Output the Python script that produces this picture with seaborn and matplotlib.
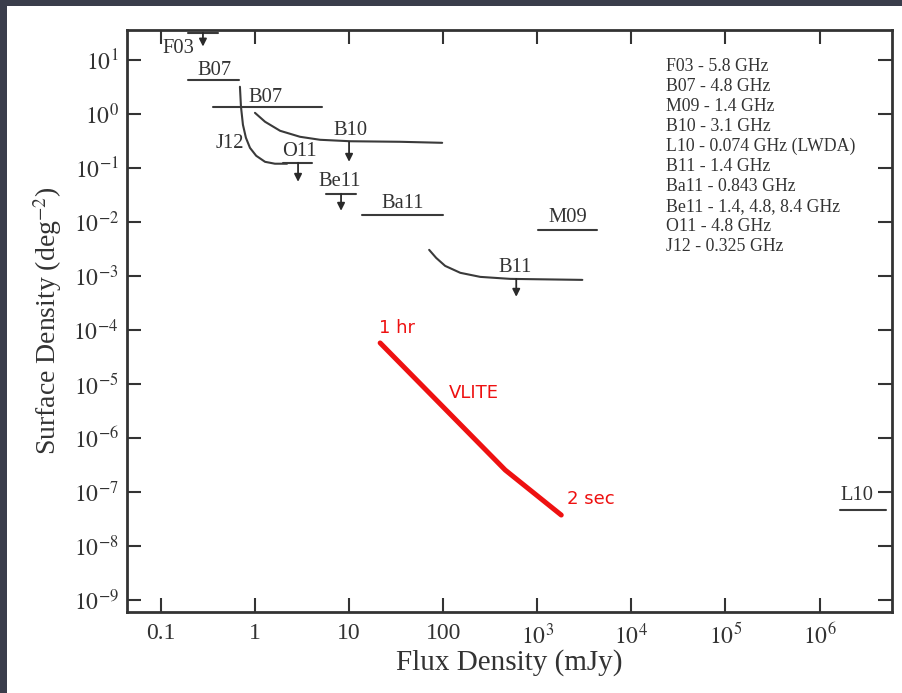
import numpy as np
import pandas as pd
import matplotlib
matplotlib.use("Agg")
import matplotlib.pyplot as plt
from matplotlib.patches import Rectangle
from matplotlib.ticker import FixedLocator, FixedFormatter, NullLocator
import seaborn as sns

# ---------------- data (flux density mJy, surface density deg^-2) ----------------
f03_x = [0.194, 0.404];            f03_y = [31.6, 31.6]
b07a_x = [0.194, 0.676];           b07a_y = [4.27, 4.27]
b07b_x = [0.357, 5.16];            b07b_y = [1.35, 1.35]
j12_x = [0.692, 0.710, 0.745, 0.801, 0.885, 1.03, 1.28, 1.63, 2.19]
j12_y = [3.16, 1.35, 0.625, 0.36, 0.234, 0.167, 0.129, 0.119, 0.119]
o11_x = [1.99, 4.04];              o11_y = [0.124, 0.124]
b10_x = [1.0, 1.28, 1.85, 3.01, 4.91, 10.3, 34.9, 97.6]
b10_y = [1.04, 0.711, 0.484, 0.375, 0.330, 0.310, 0.303, 0.290]
be11_x = [5.69, 11.9];             be11_y = [0.033, 0.033]
ba11_x = [13.7, 100.0];            ba11_y = [0.0135, 0.0135]
b11_x = [71.0, 84.3, 105.0, 152.0, 248.0, 516.0, 3013.0]
b11_y = [0.00303, 0.00215, 0.00153, 0.00114, 0.000958, 0.00088, 0.000843]
m09_x = [1026.0, 4350.0];          m09_y = [0.0071, 0.0071]
l10_x = [1.63e6, 5.04e6];          l10_y = [4.64e-8, 4.64e-8]
vlite_x = [21.4, 457.0, 1799.0]
vlite_y = [5.74e-5, 2.55e-7, 3.75e-8]

# upper-limit arrows: x, y_from, y_to
arrow_x = [0.28, 2.87, 10.0, 8.22, 598.0]
arrow_y0 = [31.6, 0.124, 0.30, 0.033, 0.00088]
arrow_y1 = [17.5, 0.055, 0.129, 0.016, 0.00041]

survey_names = ["F03", "B07", "B07", "J12", "O11", "B10", "Be11", "Ba11", "B11", "M09", "L10"]
survey_lx = [0.155, 0.375, 1.31, 0.542, 2.94, 10.3, 8.0, 37.5, 583.0, 2138.0, 2.48e6]
survey_ly = [16.0, 6.25, 1.98, 0.278, 0.198, 0.484, 0.055, 0.0216, 0.00141, 0.0119, 8.8e-8]

vlite_labels = ["1 hr", "VLITE", "2 sec"]
vlite_lx = [32.4, 214.0, 3664.0]
vlite_ly = [1.09e-4, 6.8e-6, 7.4e-8]

legend_lines = ["F03 - 5.8 GHz", "B07 - 4.8 GHz", "M09 - 1.4 GHz", "B10 - 3.1 GHz",
                "L10 - 0.074 GHz (LWDA)", "B11 - 1.4 GHz", "Ba11 - 0.843 GHz",
                "Be11 - 1.4, 4.8, 8.4 GHz", "O11 - 4.8 GHz", "J12 - 0.325 GHz"]

xticks = [0.1, 1, 10, 100, 1e3, 1e4, 1e5, 1e6]
xticklabels = ["0.1", "1", "10", "100", "$10^3$", "$10^4$", "$10^5$", "$10^6$"]
yticks = [10.0 ** e for e in range(1, -10, -1)]
yticklabels = ["$10^{%d}$" % e for e in range(1, -10, -1)]

# ---------------- build long table ----------------
segments = [("F03", f03_x, f03_y), ("B07a", b07a_x, b07a_y), ("B07b", b07b_x, b07b_y),
            ("J12", j12_x, j12_y), ("O11", o11_x, o11_y), ("B10", b10_x, b10_y),
            ("Be11", be11_x, be11_y), ("Ba11", ba11_x, ba11_y), ("B11", b11_x, b11_y),
            ("M09", m09_x, m09_y), ("L10", l10_x, l10_y)]
rows = []
for name, xs, ys in segments:
    for i, (a, b) in enumerate(zip(xs, ys)):
        rows.append({"seg": name, "order": i, "flux": a, "dens": b})
df = pd.DataFrame(rows)
df_v = pd.DataFrame({"flux": vlite_x, "dens": vlite_y, "seg": "VLITE"})

# ---------------- figure ----------------
sns.set_style("ticks")
plt.rcParams["font.family"] = ["Liberation Serif", "DejaVu Serif"]
plt.rcParams["mathtext.fontset"] = "stix"

fig = plt.figure(figsize=(9.03, 6.93), dpi=100, facecolor="#3a3d4b")
fig.patches.append(Rectangle((7 / 903, 0), 1, 1 - 6 / 693, transform=fig.transFigure,
                             facecolor="white", edgecolor="none", zorder=-10))
ax = fig.add_axes([127 / 903, 1 - 612 / 693, 765 / 903, 582 / 693])
ax.set_facecolor("white")

sns.lineplot(data=df, x="flux", y="dens", units="seg", estimator=None, sort=False,
             color="#3a3a3a", linewidth=1.5, ax=ax, legend=False)
sns.lineplot(data=df_v, x="flux", y="dens", sort=False, estimator=None,
             color="#ee1111", linewidth=3.6, ax=ax, legend=False)

ax.set_xscale("log")
ax.set_yscale("log")
ax.set_xlim(10 ** -1.36, 10 ** 6.77)
ax.set_ylim(10 ** -9.22, 10 ** 1.55)

for xa, y0, y1 in zip(arrow_x, arrow_y0, arrow_y1):
    ax.annotate("", xy=(xa, y1), xytext=(xa, y0),
                arrowprops=dict(arrowstyle="-|>", color="#2a2a2a", lw=1.3,
                                mutation_scale=11, shrinkA=0, shrinkB=0))

for t, xx, yy in zip(survey_names, survey_lx, survey_ly):
    ax.text(xx, yy, t, ha="center", va="center", fontsize=14.8, color="#333333")

for t, xx, yy in zip(vlite_labels, vlite_lx, vlite_ly):
    ax.text(xx, yy, t, ha="center", va="center", fontsize=13, color="#ee1111",
            family=["DejaVu Sans"])

for i, t in enumerate(legend_lines):
    ax.text(0.705, 0.938 - i * 0.0344, t, transform=ax.transAxes, ha="left",
            va="center", fontsize=12.8, color="#333333")

ax.xaxis.set_major_locator(FixedLocator(xticks))
ax.xaxis.set_major_formatter(FixedFormatter(xticklabels))
ax.xaxis.set_minor_locator(NullLocator())
ax.yaxis.set_major_locator(FixedLocator(yticks))
ax.yaxis.set_major_formatter(FixedFormatter(yticklabels))
ax.yaxis.set_minor_locator(NullLocator())

ax.tick_params(axis="both", which="major", direction="in", length=10, width=1.5,
               color="#333333", labelsize=17, labelcolor="#333333",
               top=True, right=True, pad=6)
ax.tick_params(axis="x", pad=8)
for s in ax.spines.values():
    s.set_visible(True)
    s.set_linewidth(2)
    s.set_color("#333333")

ax.set_xlabel("Flux Density (mJy)", fontsize=21, color="#333333", labelpad=0)
ax.set_ylabel("Surface Density (deg$^{-2}$)", fontsize=20, color="#333333", labelpad=7)

fig.savefig("out.png", dpi=100, facecolor=fig.get_facecolor())
